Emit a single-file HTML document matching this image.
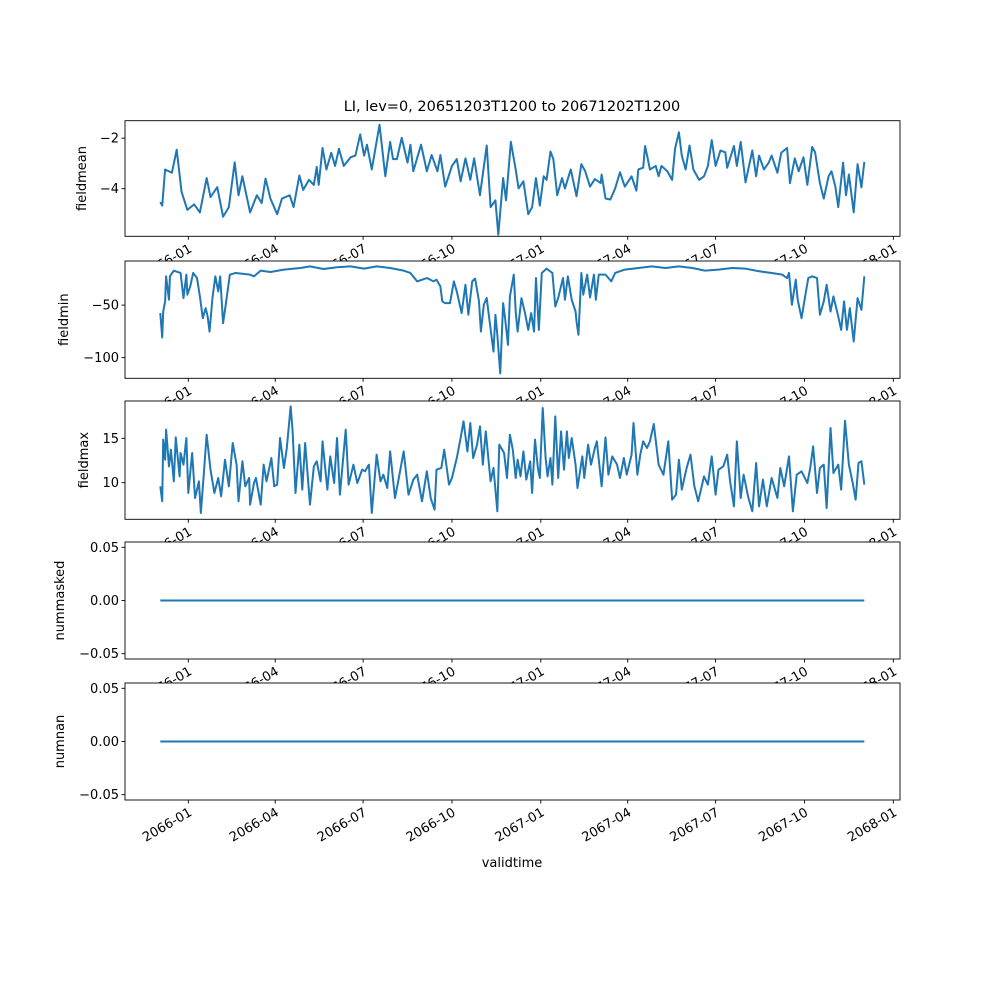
<!DOCTYPE html>
<html><head><meta charset="utf-8"><style>
html,body{margin:0;padding:0;background:#fff;}
svg{display:block;font-family:"DejaVu Sans","Liberation Sans",sans-serif;}
</style></head><body>
<svg id="fig" width="1000" height="1000" viewBox="0 0 1000 1000" xmlns="http://www.w3.org/2000/svg">
<rect width="1000" height="1000" fill="#fff"/>
<text x="512" y="111" text-anchor="middle" font-size="14.5">LI, lev=0, 20651203T1200 to 20671202T1200</text>
<g id="plots"></g>
<text x="512" y="867" text-anchor="middle" font-size="13">validtime</text>
</svg>
<script>
// Day offsets from 2065-12-03 and values
const meanDays = [0,2,5,12,17,22,28,35,41,48,52,59,65,71,77,81,85,93,100,105,109,114,121,126,134,138,144,148,154,159,162,164,168,172,177,181,185,190,197,202,207,211,214,219,227,233,238,241,245,250,256,259,262,270,276,281,287,290,295,302,307,311,316,321,325,331,338,342,347,350,355,358,
363,368,371,376,381,385,389,393,397,400,404,407,411,416,419,425,431,436,440,445,450,456,457,461,466,471,476,481,488,493,495,500,502,507,513,516,519,525,530,533,537,540,544,548,552,558,563,567,571,575,580,585,587,594,597,601,606,613,617,620,625,630,633,639,643,649,652,657,661,666,670,675,678,683,687,692,695,699,702,707,710,713,718,722,726,729];
const meanVals = [-4.53,-4.67,-3.24,-3.37,-2.46,-4.12,-4.84,-4.62,-4.94,-3.58,-4.33,-3.94,-5.11,-4.73,-2.96,-4.26,-3.51,-4.94,-4.26,-4.57,-3.60,-4.39,-5.01,-4.39,-4.26,-4.73,-3.48,-4.05,-3.65,-3.85,-3.14,-3.85,-2.39,-3.24,-2.58,-3.10,-2.42,-3.10,-2.76,-2.69,-1.85,-2.69,-2.26,-3.24,-1.47,-3.51,-2.15,-2.83,-2.83,-1.99,-2.97,-2.26,-3.31,-2.26,-3.31,-2.67,-3.31,-2.67,-3.92,-3.10,-2.83,-3.71,-2.80,-3.65,-2.80,-4.26,-2.29,-4.73,-4.46,-5.82,-3.58,-4.46,
-2.15,-3.24,-3.99,-3.71,-5.01,-4.73,-3.58,-4.67,-3.51,-3.65,-2.53,-2.83,-4.26,-3.58,-3.99,-3.24,-4.30,-3.03,-3.31,-3.92,-3.62,-3.78,-3.44,-4.39,-4.43,-3.99,-3.35,-3.92,-3.51,-4.08,-3.24,-3.17,-2.31,-3.24,-3.10,-3.51,-3.10,-3.31,-3.65,-2.42,-1.77,-2.69,-3.24,-2.29,-3.24,-3.65,-3.51,-3.10,-2.08,-3.10,-2.49,-2.56,-3.17,-2.31,-3.10,-2.15,-3.75,-2.49,-3.51,-2.69,-3.24,-2.97,-2.69,-3.37,-2.58,-2.39,-3.78,-2.80,-3.31,-2.76,-3.85,-2.35,-2.56,-3.78,-4.39,-3.51,-3.31,-3.92,-4.73,-2.97,-4.26,-3.44,-4.94,-3.03,-3.95,-2.94];

const minDays = [0,2,3,5,6,9,10,14,21,24,27,28,31,34,38,41,44,47,49,51,54,57,60,62,65,68,72,78,93,97,104,114,128,145,155,169,183,197,211,224,238,252,259,266,276,283,286,290,292,295,300,304,307,312,316,319,323,326,330,332,335,338,341,345,347,349,352,355,
357,360,362,366,368,370,374,378,381,384,387,389,392,395,400,406,409,412,417,419,422,426,430,431,433,436,438,442,445,449,451,454,461,467,471,481,495,509,523,537,551,564,578,592,606,620,633,644,649,651,654,658,660,664,668,671,675,680,683,687,690,694,697,702,705,708,711,714,718,722,726,729];
const minVals = [-57.6,-80.9,-56.1,-46.5,-22.6,-44.9,-22.6,-17.2,-19.4,-43.3,-21.0,-40.1,-32.2,-19.4,-24.2,-41.7,-62.4,-52.9,-60.8,-75.2,-43.3,-22.6,-37.0,-22.6,-67.2,-48.1,-21.0,-19.4,-21.0,-22.6,-17.2,-18.5,-16.2,-14.7,-13.1,-15.6,-14.0,-13.1,-15.3,-13.1,-14.7,-17.2,-19.4,-27.4,-24.2,-27.4,-25.8,-32.2,-46.5,-48.1,-48.1,-27.4,-37.0,-57.6,-30.6,-59.2,-27.4,-24.8,-46.5,-75.2,-49.7,-43.3,-65.6,-94.3,-59.2,-78.3,-115,-48.1,
-62.4,-87.9,-41.7,-21.0,-56.1,-75.2,-43.3,-59.2,-73.6,-57.6,-75.2,-24.2,-73.6,-19.4,-15.3,-19.4,-51.3,-43.3,-24.2,-44.9,-22.6,-44.9,-56.1,-65.6,-78.3,-19.4,-40.1,-21.0,-42.7,-21.0,-44.9,-21.0,-21.0,-27.4,-19.4,-16.2,-14.7,-13.1,-14.7,-13.1,-14.7,-17.2,-16.2,-14.7,-15.3,-17.8,-19.4,-21.0,-24.2,-19.4,-49.7,-25.8,-44.9,-62.4,-40.1,-24.2,-22.6,-24.2,-59.2,-46.5,-30.6,-56.1,-41.7,-60.8,-73.6,-46.5,-73.6,-52.9,-84.7,-43.3,-54.5,-22.6];

const maxDays = [0,2,3,5,6,9,11,14,16,20,21,24,27,29,33,36,40,42,45,48,52,56,60,63,67,71,75,79,81,85,88,92,93,97,99,104,107,110,115,118,121,124,128,131,135,137,140,144,147,150,155,159,162,166,168,173,176,180,183,186,192,195,200,204,209,212,216,219,224,228,231,235,238,243,247,252,257,262,266,271,276,280,284,286,291,294,299,302,307,311,314,318,321,324,328,331,334,337,342,345,349,351,356,359,
362,365,368,370,373,376,379,383,385,388,391,393,396,399,401,404,406,409,412,415,418,421,423,426,430,432,437,439,443,446,450,452,457,461,464,468,473,476,480,483,488,490,494,497,500,504,507,511,516,521,526,530,534,537,540,545,549,553,557,563,567,571,575,578,583,587,590,594,597,601,604,609,613,617,620,624,628,633,639,642,646,651,655,659,664,670,673,676,680,683,687,690,694,697,702,705,709,713,717,720,723,726,729];
const maxVals = [9.59,7.90,14.85,12.59,15.98,11.84,13.72,10.15,15.11,10.71,13.35,12.03,15.04,8.84,13.35,8.27,10.15,6.58,10.90,15.41,11.47,8.84,10.53,8.46,12.59,9.59,14.47,12.03,7.90,12.41,9.59,10.53,7.52,9.96,10.53,7.52,12.03,10.15,12.78,9.59,9.78,15.04,11.66,13.91,18.61,15.79,8.84,14.29,9.21,14.47,7.52,11.84,12.41,10.15,14.66,9.21,12.97,9.96,15.04,8.65,15.98,9.78,12.03,9.96,11.47,11.28,12.03,6.58,13.16,10.15,10.90,9.40,13.53,8.27,10.53,13.53,8.65,10.34,10.90,7.90,11.28,8.27,6.96,11.47,11.66,13.72,9.78,10.53,12.78,15.04,16.92,13.53,16.73,12.78,14.29,16.35,12.03,15.79,10.15,11.66,6.77,14.29,13.35,10.53,
15.41,13.72,10.53,12.59,10.71,13.53,10.34,12.41,8.84,14.85,11.66,10.53,18.42,12.78,10.71,12.78,9.78,17.48,10.53,15.79,11.47,15.79,12.78,15.04,12.03,9.40,12.97,10.53,14.29,12.03,13.91,14.66,9.59,15.11,10.90,12.97,12.03,10.53,12.78,10.90,13.16,16.73,10.90,13.16,14.66,13.91,14.66,16.62,12.03,10.90,14.66,8.08,8.65,12.59,9.21,11.66,13.16,9.59,7.90,10.71,9.78,12.97,8.65,11.47,11.84,13.16,10.15,7.33,14.66,8.27,10.90,8.27,6.77,12.22,7.33,10.34,7.33,10.53,8.27,11.66,9.59,12.97,6.77,10.90,11.28,9.96,11.66,14.10,8.84,11.66,12.03,7.14,16.17,11.09,12.03,9.21,16.99,12.03,9.96,8.08,12.22,12.41,9.78,15.41];

const flatDays = [0,729];
const maskedVals = [0,0];
const nanVals = [0,0];

const xTickLabels = ["2066-01","2066-04","2066-07","2066-10","2067-01","2067-04","2067-07","2067-10","2068-01"];
const meanTicks = [-2,-4];
const minTicks = [-50,-100];
const maxTicks = [15,10];
const zeroTicks = [0.05,0.00,-0.05];

const NS="http://www.w3.org/2000/svg";
const L=125,R=900;
const DAY=86400000, START=Date.UTC(2065,11,3);
const X0=Date.UTC(2066,0,1), X1=Date.UTC(2068,0,1);
const xpx0=188.3, xpx1=893.3;
function xDate(ms){return xpx0+(ms-X0)/(X1-X0)*(xpx1-xpx0);}
function xDay(d){return xDate(START+d*DAY);}
function tickMs(lbl){const p=lbl.split('-');return Date.UTC(+p[0],+p[1]-1,1);}

const panels=[
 {name:'fieldmean',top:120.7,bot:236.3,ymin:-5.885,ymax:-1.31,days:meanDays,vals:meanVals,ticks:meanTicks,fmt:v=>String(v).replace('-','\u2212'),lab:'fieldmean',labx:86},
 {name:'fieldmin',top:261,bot:378.3,ymin:-119.7,ymax:-8.0,days:minDays,vals:minVals,ticks:minTicks,fmt:v=>String(v).replace('-','\u2212'),lab:'fieldmin',labx:68},
 {name:'fieldmax',top:401,bot:519.3,ymin:5.87,ymax:19.21,days:maxDays,vals:maxVals,ticks:maxTicks,fmt:v=>String(v),lab:'fieldmax',labx:88},
 {name:'nummasked',top:542,bot:659,ymin:-0.055,ymax:0.055,days:flatDays,vals:maskedVals,ticks:zeroTicks,fmt:v=>v.toFixed(2).replace('-','\u2212'),lab:'nummasked',labx:64},
 {name:'numnan',top:683,bot:800,ymin:-0.055,ymax:0.055,days:flatDays,vals:nanVals,ticks:zeroTicks,fmt:v=>v.toFixed(2).replace('-','\u2212'),lab:'numnan',labx:64}
];
const root=document.getElementById('plots');
function mk(tag,attrs,parent){const e=document.createElementNS(NS,tag);for(const k in attrs)e.setAttribute(k,attrs[k]);(parent||root).appendChild(e);return e;}

panels.forEach((p,pi)=>{
 const y=v=>p.bot-(v-p.ymin)/(p.ymax-p.ymin)*(p.bot-p.top);
 const g=mk('g',{});
 
 
 const bg=mk('rect',{x:L,y:p.top,width:R-L,height:p.bot-p.top,fill:'#fff'},g);
 
 
 let d='';
 p.days.forEach((dd,i)=>{d+=(i?'L':'M')+xDay(dd).toFixed(2)+' '+y(p.vals[i]).toFixed(2);});
 const line=mk('path',{d:d,fill:'none',stroke:'#1f77b4','stroke-width':2,'stroke-linejoin':'round'},g);
 
 
 const fr=mk('rect',{x:L,y:p.top,width:R-L,height:p.bot-p.top,fill:'none',stroke:'#000','stroke-width':0.9},g);
 
 
 p.ticks.forEach(t=>{
  const ty=y(t);
  mk('line',{x1:L-3.5,x2:L,y1:ty,y2:ty,stroke:'#000','stroke-width':0.9},g);
  const tl=mk('text',{x:L-6,y:ty+4.5,'text-anchor':'end','font-size':13},g);
  tl.textContent=p.fmt(t);
  
  
 });
 const yl=mk('text',{x:p.labx,y:(p.top+p.bot)/2,'text-anchor':'middle','font-size':13,transform:'rotate(-90 '+p.labx+' '+((p.top+p.bot)/2)+')'},g);
 yl.textContent=p.lab;
 
 
 xTickLabels.forEach(lbl=>{
  const tx=xDate(tickMs(lbl));
  mk('line',{x1:tx,x2:tx,y1:p.bot,y2:p.bot+3.5,stroke:'#000','stroke-width':0.9},g);
  const ly=p.bot+7;
  const t=mk('text',{x:tx,y:ly+9,'text-anchor':'end','font-size':13,transform:'rotate(-30 '+tx+' '+ly+')'},g);
  t.textContent=lbl;
  
  
 });
});
</script>
</body></html>
